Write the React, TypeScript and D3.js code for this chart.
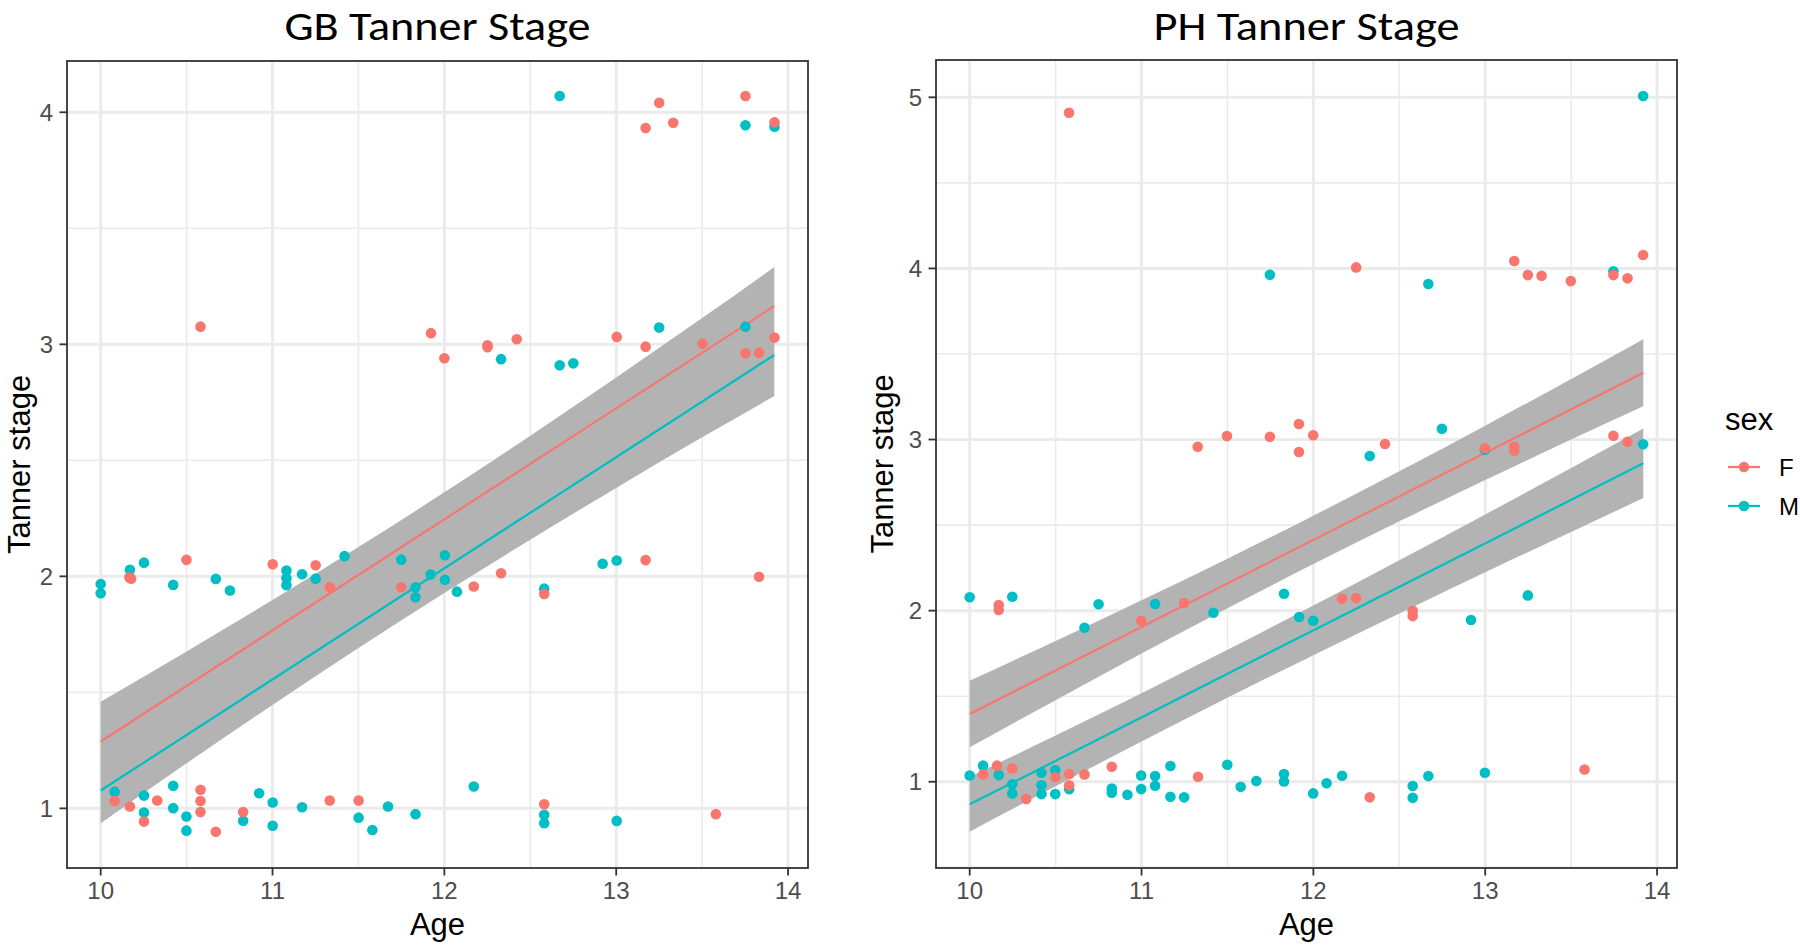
import React from "react";
import * as d3 from "d3";

// ---------- DATA ----------
const xTicks = [10, 11, 12, 13, 14];
const gbYTicks = [1, 2, 3, 4];
const phYTicks = [1, 2, 3, 4, 5];

// GB panel, females
const gbAgeF = [10.581, 11.922, 12.0, 13.25, 13.171, 13.332, 13.752, 13.921, 12.251, 12.251, 12.421, 13.003, 13.171, 13.502, 13.752, 13.831, 13.921,
  10.167, 10.177, 10.499, 11.001, 11.251, 11.333, 11.749, 12.171, 12.33, 12.581, 13.171, 13.831,
  12.581, 13.58, 10.081, 10.17, 10.252, 10.329, 10.581, 10.581, 10.581, 10.67, 10.829, 11.333, 11.501];
const gbStageF = [3.076, 3.048, 2.94, 4.041, 3.932, 3.955, 4.07, 3.957, 2.996, 2.987, 3.022, 3.032, 2.99, 3.002, 2.961, 2.964, 3.029,
  1.995, 1.99, 2.071, 2.052, 2.048, 1.953, 1.953, 1.956, 2.013, 1.924, 2.07, 1.998,
  1.018, 0.975, 1.032, 1.008, 0.943, 1.034, 1.08, 1.032, 0.984, 0.899, 0.984, 1.034, 1.034];
// GB panel, males
const gbAgeM = [12.671, 13.752, 13.921, 12.33, 12.671, 12.75, 13.25, 13.752,
  10.0, 10.0, 10.17, 10.252, 10.422, 10.67, 10.752, 11.081, 11.081, 11.081, 11.172, 11.251, 11.419, 11.749, 11.832, 11.832, 11.92, 12.003, 12.003, 12.073, 12.581, 12.921, 13.003,
  12.171, 12.581, 12.581, 13.003, 10.081, 10.252, 10.252, 10.422, 10.422, 10.499, 10.499, 10.829, 10.922, 11.001, 11.001, 11.172, 11.501, 11.581, 11.672, 11.832];
const gbStageM = [4.07, 3.944, 3.938, 2.936, 2.91, 2.918, 3.072, 3.076,
  1.967, 1.927, 2.028, 2.059, 1.963, 1.989, 1.939, 2.025, 1.992, 1.962, 2.009, 1.99, 2.087, 2.072, 1.953, 1.91, 2.008, 2.091, 1.985, 1.934, 1.947, 2.054, 2.068,
  1.094, 0.972, 0.936, 0.946, 1.072, 1.055, 0.982, 1.097, 1.001, 0.965, 0.904, 0.947, 1.065, 1.025, 0.925, 1.005, 0.96, 0.907, 1.008, 0.975];

// PH panel, females
const phAgeF = [10.578, 11.327, 11.497, 11.747, 11.916, 11.916, 11.999, 12.249, 13.169, 13.248, 13.328, 13.498, 13.746, 13.828, 13.919, 12.417, 12.998, 13.169, 13.169, 13.746, 13.828,
  10.169, 10.169, 10.998, 11.248, 12.167, 12.249, 12.578, 12.578,
  10.078, 10.159, 10.248, 10.329, 10.498, 10.579, 10.579, 10.668, 10.827, 11.329, 12.328, 13.578];
const phStageF = [4.91, 2.958, 3.02, 3.016, 3.091, 2.927, 3.025, 4.006, 4.043, 3.961, 3.957, 3.926, 3.961, 3.942, 4.078, 2.974, 2.949, 2.958, 2.935, 3.022, 2.987,
  2.033, 2.004, 1.941, 2.044, 2.07, 2.074, 1.999, 1.968,
  1.043, 1.094, 1.078, 0.899, 1.026, 1.045, 0.979, 1.043, 1.088, 1.029, 0.909, 1.072];
// PH panel, males
const phAgeM = [13.919, 11.747, 12.669, 13.746, 12.328, 12.748, 12.998, 13.919,
  10.0, 10.248, 10.668, 10.75, 11.079, 11.418, 11.829, 11.917, 11.999, 12.917, 13.248,
  10.0, 10.078, 10.169, 10.248, 10.248, 10.418, 10.418, 10.418, 10.498, 10.498, 10.579, 10.827, 10.827, 10.918, 10.998, 10.998, 11.079, 11.079, 11.168, 11.168, 11.248, 11.499, 11.577, 11.668, 11.829, 11.829, 11.999, 12.077, 12.167, 12.578, 12.578, 12.669, 12.998];
const phStageM = [5.008, 3.963, 3.909, 3.983, 2.904, 3.063, 2.94, 2.972,
  2.078, 2.081, 1.9, 2.037, 2.039, 1.988, 2.099, 1.963, 1.941, 1.945, 2.089,
  1.037, 1.094, 1.039, 0.985, 0.932, 1.053, 0.979, 0.928, 1.068, 0.928, 0.956, 0.961, 0.936, 0.924, 1.037, 0.957, 1.033, 0.977, 1.092, 0.912, 0.909, 1.099, 0.971, 1.004, 1.045, 1.002, 0.932, 0.991, 1.035, 0.975, 0.906, 1.033, 1.053];

// fitted lines (at age 10 and 13.92)
const fitAges = [10, 13.92];
const gbFitF = [1.288, 3.165];
const gbFitM = [1.077, 2.954];
const phFitF = [1.396, 3.39];
const phFitM = [0.868, 2.861];

// confidence ribbons
const ribbonAges = [10, 10.5, 11, 11.5, 12, 12.5, 13, 13.5, 13.92];
const gbRibbonLow = [0.936, 1.194, 1.446, 1.691, 1.928, 2.158, 2.381, 2.599, 2.777];
const gbRibbonHigh = [1.46, 1.676, 1.898, 2.126, 2.362, 2.606, 2.857, 3.113, 3.333];
const phRibbonFLow = [1.201, 1.477, 1.749, 2.014, 2.272, 2.522, 2.763, 3.0, 3.194];
const phRibbonFHigh = [1.591, 1.823, 2.061, 2.304, 2.555, 2.814, 3.081, 3.354, 3.586];
const phRibbonMLow = [0.708, 0.974, 1.235, 1.491, 1.74, 1.984, 2.224, 2.46, 2.658];
const phRibbonMHigh = [1.028, 1.27, 1.517, 1.771, 2.03, 2.294, 2.562, 2.834, 3.064];

const COL_F = "#F8766D";
const COL_M = "#00BFC4";
const RIBBON = "#B3B3B3";
const GRID = "#EBEBEB";

type Ribbon = { low: number[]; high: number[] };
type Fit = { values: number[]; color: string };

type PanelProps = {
  title: string;
  left: number;
  right: number;
  top: number;
  bottom: number;
  xDomain: [number, number];
  yDomain: [number, number];
  yTicks: number[];
  ribbons: Ribbon[];
  fits: Fit[];
  ageF: number[];
  stageF: number[];
  ageM: number[];
  stageM: number[];
  yTitleX: number;
};

function Panel(p: PanelProps) {
  const x = d3.scaleLinear().domain(p.xDomain).range([p.left, p.right]);
  const y = d3.scaleLinear().domain(p.yDomain).range([p.bottom, p.top]);

  const xMinor: number[] = [];
  for (let i = 0; i < xTicks.length - 1; i++) xMinor.push((xTicks[i] + xTicks[i + 1]) / 2);
  const yMinor: number[] = [];
  for (let v = Math.floor(p.yDomain[0]) + 0.5; v < p.yDomain[1]; v += 1) {
    if (v > p.yDomain[0]) yMinor.push(v);
  }

  const area = d3
    .area<number>()
    .x((_, i) => x(ribbonAges[i]))
    .curve(d3.curveMonotoneX);
  const line = d3
    .line<number>()
    .x((_, i) => x(fitAges[i]))
    .y((d) => y(d));

  const cx = (p.left + p.right) / 2;
  const cy = (p.top + p.bottom) / 2;
  const tickLen = 7.5;
  const clipId = `clip-${p.title.replace(/\s/g, "")}`;

  return (
    <g>
      <text
        x={cx}
        y={40}
        textAnchor="middle"
        fontFamily="Carlito, Lato, sans-serif"
        fontSize={40}
        textLength={306}
        lengthAdjust="spacingAndGlyphs"
        fill="#000"
      >
        {p.title}
      </text>
      <rect x={p.left} y={p.top} width={p.right - p.left} height={p.bottom - p.top} fill="#fff" />
      <clipPath id={clipId}>
        <rect x={p.left} y={p.top} width={p.right - p.left} height={p.bottom - p.top} />
      </clipPath>
      <g clipPath={`url(#${clipId})`}>
        {xMinor.map((v) => (
          <line key={"xm" + v} x1={x(v)} x2={x(v)} y1={p.top} y2={p.bottom} stroke={GRID} strokeWidth={1.6} />
        ))}
        {yMinor.map((v) => (
          <line key={"ym" + v} x1={p.left} x2={p.right} y1={y(v)} y2={y(v)} stroke={GRID} strokeWidth={1.6} />
        ))}
        {xTicks.map((v) => (
          <line key={"xg" + v} x1={x(v)} x2={x(v)} y1={p.top} y2={p.bottom} stroke={GRID} strokeWidth={3} />
        ))}
        {p.yTicks.map((v) => (
          <line key={"yg" + v} x1={p.left} x2={p.right} y1={y(v)} y2={y(v)} stroke={GRID} strokeWidth={3} />
        ))}
        {p.ribbons.map((r, i) => (
          <path
            key={"rb" + i}
            d={area.y0((_, j) => y(r.low[j])).y1((_, j) => y(r.high[j]))(r.low) || ""}
            fill={RIBBON}
          />
        ))}
        {p.fits.map((f, i) => (
          <path key={"ft" + i} d={line(f.values) || ""} fill="none" stroke={f.color} strokeWidth={2.2} />
        ))}
        {p.ageM.map((a, i) => (
          <circle key={"m" + i} cx={x(a)} cy={y(p.stageM[i])} r={5.3} fill={COL_M} />
        ))}
        {p.ageF.map((a, i) => (
          <circle key={"f" + i} cx={x(a)} cy={y(p.stageF[i])} r={5.3} fill={COL_F} />
        ))}
      </g>
      <rect
        x={p.left}
        y={p.top}
        width={p.right - p.left}
        height={p.bottom - p.top}
        fill="none"
        stroke="#333333"
        strokeWidth={1.8}
      />
      {xTicks.map((v) => (
        <g key={"xt" + v}>
          <line x1={x(v)} x2={x(v)} y1={p.bottom} y2={p.bottom + tickLen} stroke="#333333" strokeWidth={1.8} />
          <text
            x={x(v)}
            y={p.bottom + 31}
            textAnchor="middle"
            fontFamily="Liberation Sans, Arial, sans-serif"
            fontSize={24}
            fill="#4D4D4D"
          >
            {v}
          </text>
        </g>
      ))}
      {p.yTicks.map((v) => (
        <g key={"yt" + v}>
          <line x1={p.left - tickLen} x2={p.left} y1={y(v)} y2={y(v)} stroke="#333333" strokeWidth={1.8} />
          <text
            x={p.left - 14}
            y={y(v) + 8.5}
            textAnchor="end"
            fontFamily="Liberation Sans, Arial, sans-serif"
            fontSize={24}
            fill="#4D4D4D"
          >
            {v}
          </text>
        </g>
      ))}
      <text
        x={cx}
        y={935}
        textAnchor="middle"
        fontFamily="Liberation Sans, Arial, sans-serif"
        fontSize={31}
        fill="#000"
      >
        Age
      </text>
      <text
        transform={`translate(${p.yTitleX},${cy}) rotate(-90)`}
        textAnchor="middle"
        fontFamily="Liberation Sans, Arial, sans-serif"
        fontSize={31}
        fill="#000"
      >
        Tanner stage
      </text>
    </g>
  );
}

export default function App() {
  return (
    <svg
      width={1800}
      height={945}
      style={{ position: "absolute", left: 0, top: 0, background: "#fff" }}
    >
      <rect x={0} y={0} width={1800} height={945} fill="#fff" />
      <Panel
        title="GB Tanner Stage"
        left={67}
        right={808}
        top={61}
        bottom={868}
        xDomain={[9.804, 14.116]}
        yDomain={[0.743, 4.221]}
        yTicks={gbYTicks}
        ribbons={[{ low: gbRibbonLow, high: gbRibbonHigh }]}
        fits={[
          { values: gbFitF, color: COL_F },
          { values: gbFitM, color: COL_M },
        ]}
        ageF={gbAgeF}
        stageF={gbStageF}
        ageM={gbAgeM}
        stageM={gbStageM}
        yTitleX={30}
      />
      <Panel
        title="PH Tanner Stage"
        left={936}
        right={1677}
        top={60}
        bottom={868}
        xDomain={[9.804, 14.116]}
        yDomain={[0.496, 5.218]}
        yTicks={phYTicks}
        ribbons={[
          { low: phRibbonFLow, high: phRibbonFHigh },
          { low: phRibbonMLow, high: phRibbonMHigh },
        ]}
        fits={[
          { values: phFitF, color: COL_F },
          { values: phFitM, color: COL_M },
        ]}
        ageF={phAgeF}
        stageF={phStageF}
        ageM={phAgeM}
        stageM={phStageM}
        yTitleX={893}
      />
      {/* legend */}
      <text x={1725} y={430} fontFamily="Liberation Sans, Arial, sans-serif" fontSize={31} fill="#000">
        sex
      </text>
      {[
        { label: "F", color: COL_F, yy: 467 },
        { label: "M", color: COL_M, yy: 506 },
      ].map((k) => (
        <g key={k.label}>
          <line x1={1728} x2={1760} y1={k.yy} y2={k.yy} stroke={k.color} strokeWidth={2.2} />
          <circle cx={1744} cy={k.yy} r={5.3} fill={k.color} />
          <text x={1779} y={k.yy + 9} fontFamily="Liberation Sans, Arial, sans-serif" fontSize={24} fill="#000">
            {k.label}
          </text>
        </g>
      ))}
    </svg>
  );
}
